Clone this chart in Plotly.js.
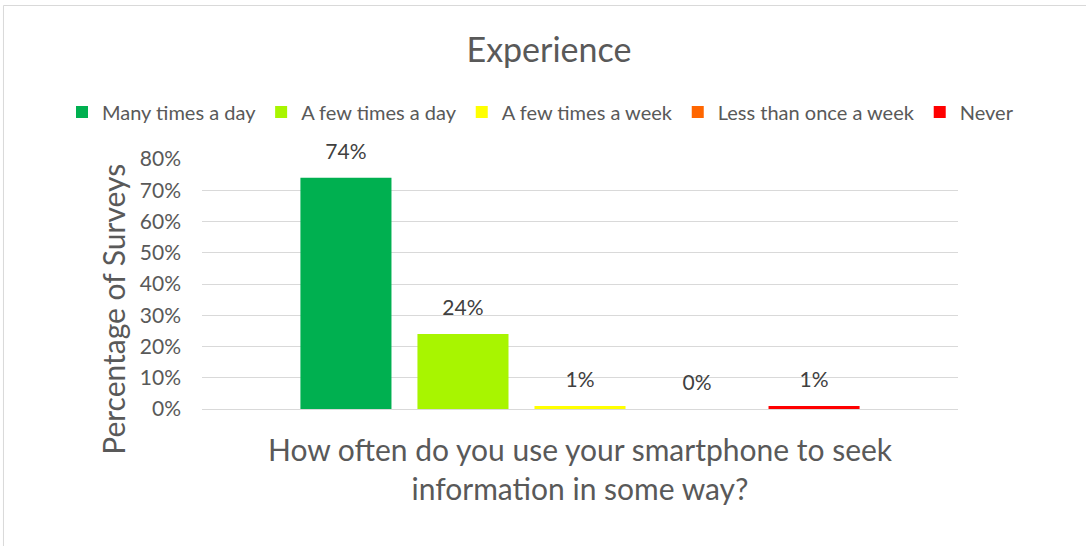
<!DOCTYPE html>
<html>
<head>
<meta charset="utf-8">
<script src="https://cdn.plot.ly/plotly-3.0.1.min.js"></script>
<style>
  html, body { margin: 0; padding: 0; background: #fff; }
  #chart { width: 1086px; height: 546px; }
</style>
</head>
<body>
<div id="chart"></div>
<script>
// ---- data ----
const categories = [''];
const seriesNames = ['Many times a day', 'A few times a day', 'A few times a week', 'Less than once a week', 'Never'];
const seriesValues = [0.74, 0.24, 0.01, 0.00, 0.01];
const seriesColors = ['#00b050', '#a8f500', '#ffff00', '#ff6600', '#ff0000'];
const yTickVals = [0, 0.1, 0.2, 0.3, 0.4, 0.5, 0.6, 0.7, 0.8];
const chartTitle = 'Experience';
const xTitle = 'How often do you use your smartphone to seek<br>information in some way?';
const yTitle = 'Percentage of Surveys';

const FONT = 'Lato, "Open Sans", sans-serif';
const TXT = '#595959';

const barTraces = seriesNames.map((name, i) => ({
  type: 'bar',
  name: name,
  x: categories,
  y: [seriesValues[i]],
  marker: { color: seriesColors[i] },
  hoverinfo: 'skip'
}));

// data labels: grouped scatter text over the bars
const labelTraces = seriesNames.map((name, i) => ({
  type: 'scatter',
  mode: 'markers+text',
  name: name + ' label',
  showlegend: false,
  x: categories,
  y: [seriesValues[i]],
  text: [Math.round(seriesValues[i] * 100) + '%'],
  textposition: 'top center',
  marker: { size: 20, opacity: 0, color: seriesColors[i] },
  textfont: { family: FONT, size: 21, color: '#404040' },
  cliponaxis: false,
  hoverinfo: 'skip'
}));

const layout = {
  width: 1086,
  height: 546,
  margin: { l: 202, r: 128, t: 159, b: 137, autoexpand: false },
  paper_bgcolor: '#ffffff',
  plot_bgcolor: '#ffffff',
  font: { family: FONT, color: TXT },
  title: {
    text: chartTitle,
    font: { family: FONT, size: 34, color: TXT },
    x: 0.5055, xanchor: 'center',
    y: 0.908, yanchor: 'middle'
  },
  barmode: 'group',
  bargap: 0.226,
  bargroupgap: 0.222,
  scattermode: 'group',
  scattergap: 0.226,
  showlegend: true,
  legend: {
    orientation: 'h',
    xref: 'paper', yref: 'paper',
    x: (62 - 202) / 756, xanchor: 'left',
    y: (409 - 112) / 250, yanchor: 'middle',
    bgcolor: 'rgba(0,0,0,0)',
    font: { family: FONT, size: 20, color: TXT },
    itemwidth: 30,
    traceorder: 'normal'
  },
  xaxis: {
    type: 'category',
    showticklabels: false,
    showgrid: false,
    zeroline: false,
    showline: false,
    ticks: '',
    fixedrange: true
  },
  yaxis: {
    range: [0, 0.8],
    tickvals: yTickVals,
    tickformat: '.0%',
    showgrid: true,
    gridcolor: '#d9d9d9',
    gridwidth: 1,
    zeroline: true,
    zerolinecolor: '#d9d9d9',
    zerolinewidth: 1,
    showline: false,
    ticks: '',
    ticklen: 0,
    ticklabelstandoff: 20,
    tickfont: { family: FONT, size: 21, color: TXT },
    automargin: false,
    fixedrange: true
  },
  annotations: [{
    text: yTitle,
    textangle: -90,
    xref: 'paper', yref: 'paper',
    x: -0.118, y: 0.4,
    xanchor: 'center', yanchor: 'middle',
    showarrow: false,
    font: { family: FONT, size: 30, color: TXT }
  }, {
    text: xTitle,
    xref: 'paper', yref: 'paper',
    x: 0.5, y: (409 - 468) / 250,
    xanchor: 'center', yanchor: 'middle',
    showarrow: false,
    font: { family: FONT, size: 30, color: TXT }
  }],
  shapes: [{
    type: 'rect',
    xref: 'paper', yref: 'paper',
    x0: -0.2626, x1: 1.2, y0: -0.6, y1: 1.614,
    line: { color: '#d9d9d9', width: 1 },
    fillcolor: 'rgba(0,0,0,0)',
    layer: 'below'
  }]
};

Plotly.newPlot('chart', barTraces.concat(labelTraces), layout, { displayModeBar: false, staticPlot: true });
</script>
</body>
</html>
